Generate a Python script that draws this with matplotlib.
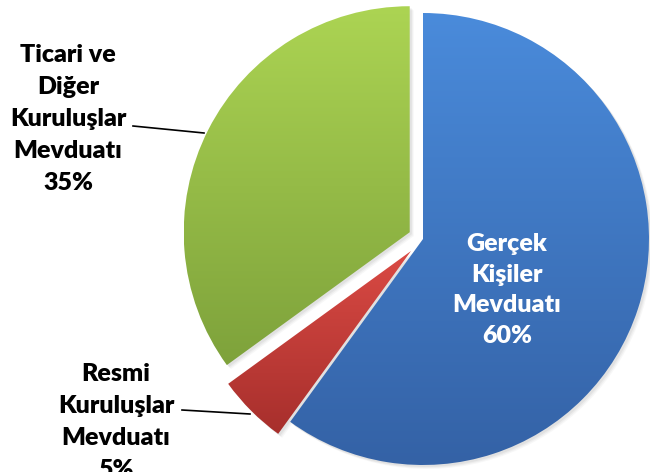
import numpy as np
import matplotlib.pyplot as plt
from matplotlib.colors import LinearSegmentedColormap
from matplotlib.patches import Wedge

# --- Daten ---
labels = ['Gerçek\nKişiler\nMevduatı', 'Resmi\nKuruluşlar\nMevduatı', 'Ticari ve\nDiğer\nKuruluşlar\nMevduatı']
values = [60, 5, 35]
explode = [0.0, 0.075, 0.066]
grad_top = ['#4a8bdb', '#da4a44', '#acd453']
grad_bottom = ['#3462a6', '#a72f2c', '#7ea23b']

# --- Figur: 1 Dateneinheit = Radius = 226 px ---
W, H, R = 650, 472, 226.0
cx, cy = 423, 239
fig = plt.figure(figsize=(W / 100, H / 100), dpi=100)
ax = fig.add_axes([0, 0, 1, 1])

def px(x, y):
    # Pixelposition (von oben links) -> Datenkoordinaten
    return (x - cx) / R, (cy - y) / R

wedges, _ = ax.pie(values, explode=explode, startangle=90, counterclock=False,
                   radius=1.0, center=(0, 0), frame=True,
                   wedgeprops=dict(linewidth=0))
ax.set_aspect('auto')

for w, c1, c2 in zip(wedges, grad_top, grad_bottom):
    # weicher Schatten
    for k, a in [(4, 0.06), (3, 0.08), (2, 0.1)]:
        s = Wedge((w.center[0] + k / R, w.center[1] - k / R), w.r, w.theta1, w.theta2,
                  facecolor='#808080', edgecolor='none', alpha=a, zorder=1)
        ax.add_patch(s)
    w.set_facecolor('none')
    w.set_zorder(3)
    bb = w.get_path().get_extents()
    cmap = LinearSegmentedColormap.from_list('g', [c2, c1])
    grad = np.linspace(0, 1, 256).reshape(-1, 1)
    im = ax.imshow(grad, cmap=cmap, extent=[bb.x0, bb.x1, bb.y0, bb.y1],
                   origin='lower', aspect='auto', zorder=2, interpolation='bicubic')
    im.set_clip_path(w)

ax.set_xlim(-cx / R, (W - cx) / R)
ax.set_ylim(-(H - cy) / R, cy / R)
ax.axis('off')

font = dict(family=['Lato', 'DejaVu Sans'], fontweight='heavy', fontsize=18,
            ha='center', va='center')

ax.text(*px(507, 290), f'{labels[0]}\n{values[0]}%', color='white', zorder=5,
        linespacing=1.47, **font)
ax.text(*px(116, 422), f'{labels[1]}\n{values[1]}%', color='black', zorder=5,
        linespacing=1.55, **font)
ax.text(*px(68, 119), f'{labels[2]}\n{values[2]}%', color='black', zorder=5,
        linespacing=1.55, **font)

# Führungslinien
ax.plot(*zip(px(133, 126), px(204, 133)), color='black', lw=1.2, zorder=5)
ax.plot(*zip(px(182, 410), px(250, 414)), color='black', lw=1.2, zorder=5)

fig.savefig('out.png', dpi=100)
